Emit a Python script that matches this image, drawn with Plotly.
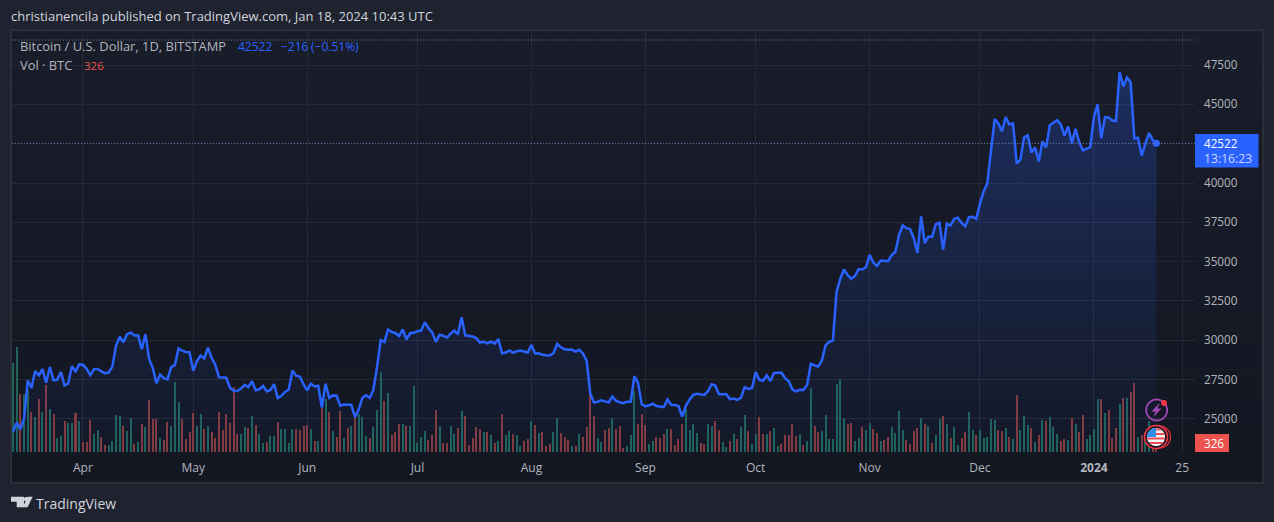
import numpy as np
import pandas as pd
import plotly.graph_objects as go

START_DATE = "2023-03-13"

close_mar = [24190,24770,24360,25050,27450,26970,28050,27770,28170,27300,28300,27470,27490,27990,27130,27260,28350,28030,28470]
close_apr = [28450,28190,27790,28170,28180,28030,27910,27950,28330,29650,30230,29880,30390,30490,30310,30320,29430,30390,28820,28250,27270,27820,27590,27520,28300,28420,29480,29340,29250,29240]
close_may = [28070,28680,29030,28850,29530,28900,28450,27660,27630,27620,26990,26800,26780,26930,27170,27030,27400,26830,26890,27100,26750,26850,27220,26330,26470,26720,26870,28080,27750,27700,27210]
close_jun = [26820,27250,27070,27110,25730,27240,26340,26500,26480,25850,25920,25900,25910,25120,25580,26340,26510,26340,26840,28310,30020,29890,30690,30530,30470,30270,30690,30070,30450,30480]
close_jul = [30580,30620,31150,30770,30510,29900,30350,30290,30170,30420,30620,30380,31470,30320,30290,30240,30140,29860,29910,29800,29910,29790,30080,29180,29220,29350,29210,29310,29350,29280,29230]
close_aug = [29700,29170,29180,29080,29050,29040,29180,29770,29560,29430,29400,29410,29280,29400,29170,28720,26620,26050,26100,26190,26120,26050,26430,26160,26060,26010,26090,26100,27720,27300,25940]
close_sep = [25800,25870,25970,25820,25790,25750,26240,25910,25890,25830,25160,25840,26220,26530,26600,26570,26530,26760,27210,27130,26570,26580,26590,26260,26300,26210,26350,27020,26910,26970]
close_oct = [27980,27490,27430,27780,27410,27930,27960,27950,27590,27390,26870,26750,26860,26850,27160,28510,28410,28330,28720,29680,29910,29990,33090,33900,34500,34150,33910,34090,34530,34500,34650]
close_nov = [35440,34940,34730,35070,35040,35030,35420,35630,36700,37310,37130,37070,36490,35560,37880,36170,36600,36580,37380,37470,35760,37420,37290,37720,37790,37460,37240,37830,37860,37720]
close_dec = [38690,39470,39970,41990,44070,43780,43290,44190,43720,43790,41240,41480,42890,43030,41930,42260,41370,42660,42270,43670,43860,43990,43720,43010,43590,42520,43440,42600,42070,42150,42280]
close_jan = [44180,45000,42850,44170,44160,43970,43940,47050,46130,46700,46400,42830,42880,41730,42510,43180,42738,42522]

vol_mar = [3204,3780,2088,2088,2232,1440,1260,1908,1440,2412,1548,1368,504,576,1116,1044,1044,1404,1116]
vol_apr = [360,360,1152,648,792,540,252,252,396,1332,1296,936,756,1224,288,360,1008,900,1872,1188,1188,504,432,1080,936,2520,1800,1188,468,720]
vol_may = [1404,936,1368,828,936,720,504,1440,792,1368,1044,2340,648,648,900,864,1296,972,648,324,360,576,576,1080,828,828,324,828,828,792,936]
vol_jun = [972,828,396,396,1584,1908,1440,756,540,1476,504,864,936,1260,1368,1260,576,504,900,1512,2880,1836,2124,612,720,1008,1008,936,936,2376]
vol_jul = [324,540,756,432,612,1512,936,324,324,936,648,864,1476,1296,252,504,900,828,720,720,612,324,396,1368,612,756,648,612,216,396,468]
vol_aug = [1116,972,684,720,216,288,720,1224,684,540,432,216,216,648,540,900,2376,1296,504,360,792,864,1224,828,936,144,216,612,2196,1008,1368]
vol_sep = [972,288,396,540,504,648,828,828,252,468,1008,1548,792,1008,684,324,288,1008,936,1116,792,360,180,396,648,468,900,1332,756,288]
vol_oct = [648,1260,648,648,756,864,216,288,612,612,1008,576,648,252,396,2304,936,720,756,1332,468,468,2448,2628,1224,1008,1044,396,504,900,792]
vol_nov = [1044,828,684,396,432,540,900,684,1476,792,432,288,756,864,1224,1008,936,324,612,1188,1296,1008,504,900,252,504,720,1440,792,612]
vol_dec = [792,504,540,1188,1152,792,756,864,540,468,2052,792,1296,972,864,360,612,1152,1116,1260,900,648,396,468,432,1224,1008,720,1332,468,612]
vol_jan = [828,1908,1908,1404,1512,504,864,1728,1944,1944,2160,2484,540,612,720,1116,216,326]

x_tick_vals = ["2023-04-01","2023-05-01","2023-06-01","2023-07-01","2023-08-01","2023-09-01","2023-10-01","2023-11-01","2023-12-01","2024-01-01","2024-01-25"]
x_tick_text = ["Apr","May","Jun","Jul","Aug","Sep","Oct","Nov","Dec","<b>2024</b>","25"]
y_tick_vals = [25000,27500,30000,32500,35000,37500,40000,42500,45000,47500]
y_tick_text = ["25000","27500","30000","32500","35000","37500","40000","","45000","47500"]

close = close_mar+close_apr+close_may+close_jun+close_jul+close_aug+close_sep+close_oct+close_nov+close_dec+close_jan
vol = vol_mar+vol_apr+vol_may+vol_jun+vol_jul+vol_aug+vol_sep+vol_oct+vol_nov+vol_dec+vol_jan
dates = pd.date_range(START_DATE, periods=len(close), freq="D")
assert len(close) == len(vol)

W, H = 1274, 522
L, R, T, B = 12, 1195, 31, 452
FONT = "Open Sans"
GRID = "#252936"
TXT = "#b2b5be"
BLUE = "#2962ff"
RED = "#ef5350"

def px(x, y):
    return (x - L) / (R - L), (B - y) / (B - T)

def rect(x0, y0, x1, y1, fill, layer="below"):
    a, b = px(x0, y0)
    c, d = px(x1, y1)
    return dict(type="rect", xref="paper", yref="paper", x0=a, y0=b, x1=c, y1=d,
                fillcolor=fill, line=dict(width=0), layer=layer)

def poly(points, fill=None, line=None, lw=0):
    s = ""
    for i, (x, y) in enumerate(points):
        a, b = px(x, y)
        s += ("M" if i == 0 else "L") + f"{a:.5f},{b:.5f}"
    s += "Z"
    return dict(type="path", xref="paper", yref="paper", path=s, layer="above",
                fillcolor=fill if fill else "rgba(0,0,0,0)",
                line=dict(width=lw, color=line if line else "rgba(0,0,0,0)"))

def disc(cx, cy, r, fill=None, line=None, lw=0, a0=0, a1=2*np.pi, n=40, centre=False):
    th = np.linspace(a0, a1, n)
    pts = [(cx + r*np.cos(t), cy + r*np.sin(t)) for t in th]
    if centre:
        pts = [(cx, cy)] + pts
    return poly(pts, fill, line, lw)

def strip(cx, cy, r, y0, y1, fill):
    ys = np.linspace(y0, y1, 5)
    left = [(cx - np.sqrt(max(r*r - (v-cy)**2, 0)), v) for v in ys]
    right = [(cx + np.sqrt(max(r*r - (v-cy)**2, 0)), v) for v in ys[::-1]]
    return poly(left + right, fill)

shapes = [rect(10, 29, 1264, 484, "#2a2e39")]
n_bands = 16
c0, c1 = np.array([0x19, 0x1d, 0x2a]), np.array([0x13, 0x17, 0x22])
for i in range(n_bands):
    c = c0 + (c1 - c0) * i / (n_bands - 1)
    y0 = 31 + (482 - 31) * i / n_bands
    y1 = 31 + (482 - 31) * (i + 1) / n_bands
    shapes.append(rect(12, y0, 1262, y1, f"rgb({int(c[0])},{int(c[1])},{int(c[2])})"))

# dotted guides
a, b = px(12, 40)
c, _ = px(1195, 40)
shapes.append(dict(type="line", xref="paper", yref="paper", x0=a, x1=c, y0=b, y1=b, layer="above",
                   line=dict(color="#787b86", width=1, dash="1px,2px")))
shapes.append(dict(type="line", xref="paper", yref="y2", x0=0, x1=1, y0=close[-1], y1=close[-1], layer="above",
                   line=dict(color="#5f77b8", width=1, dash="1px,2px")))

# price / volume labels
shapes.append(rect(1195, 134, 1258.5, 167.5, BLUE, "above"))
shapes.append(rect(1195, 434, 1229, 452, RED, "above"))

# lightning icon
shapes.append(disc(1156.7, 410, 10.5, None, "#a347b5", 1.8))
shapes.append(poly([(1160,402.5),(1151.5,411.5),(1155.5,411.5),(1153.5,417),(1161.5,408.5),(1157.5,408.5)], "#a347b5"))
shapes.append(disc(1164, 403, 3, "#f23645"))

# flag icon
shapes.append(disc(1159.5, 437, 11, None, "#e02b3c", 1.3))
shapes.append(disc(1156, 437, 12, "#131722"))
shapes.append(disc(1156, 437, 11.5, None, "#f23645", 1.6))
shapes.append(disc(1156, 437, 9, "#f5f5f5"))
for y0, y1 in [(428.5, 430.5), (433, 435), (437.5, 439.5), (442, 444)]:
    shapes.append(strip(1156, 437, 9, y0, y1, "#ef4e57"))
shapes.append(disc(1156, 437, 9, "#2f8fe8", a0=np.pi, a1=1.5*np.pi, n=14, centre=True))

# TradingView logo
LOGO = "#d1d4dc"
shapes.append(poly([(11,496.7),(24,496.7),(24,507.3),(16.7,507.3),(16.7,501.7),(11,501.7)], LOGO))
shapes.append(disc(26.2, 499.2, 2.3, LOGO))
shapes.append(poly([(28,496.7),(32.7,496.7),(27.5,507.3),(22.7,507.3)], LOGO))

def note(x, y, text, color=TXT, size=12):
    a, b = px(x, y)
    return dict(xref="paper", yref="paper", x=a, y=b, text=text, showarrow=False,
                xanchor="left", yanchor="middle", xshift=-2,
                font=dict(family=FONT, size=size, color=color))

annotations = [
    note(11, 16, "christianencila published on TradingView.com, Jan 18, 2024 10:43 UTC", "#d1d4dc", 13),
    note(20, 46, "Bitcoin / U.S. Dollar, 1D, BITSTAMP", TXT, 12.9),
    note(238, 46, "42522", BLUE, 12),
    note(281, 46, "−216", BLUE, 12),
    note(311, 46, "(−0.51%)", BLUE, 12),
    note(20, 65, "Vol · BTC", TXT, 12.9),
    note(83.5, 65, "326", RED, 11.5),
    note(36, 503, "TradingView", "#d1d4dc", 14),
    note(1204, 143, "42522", "#ffffff", 11.7),
    note(1204, 158.5, "13:16:23", "#c9d6ff", 12.2),
    note(1204, 443, "326", "#ffffff", 11.7),
]

bar_colors = ["#1f635b" if i == 0 or close[i] >= close[i-1] else "#843a3d" for i in range(len(close))]

fig = go.Figure()
fig.add_trace(go.Bar(x=dates, y=vol, marker=dict(color=bar_colors, line=dict(width=0)),
                     width=47000000, yaxis="y", showlegend=False, hoverinfo="skip"))
fig.add_trace(go.Scatter(x=dates, y=close, mode="lines", yaxis="y2", showlegend=False,
                         line=dict(color=BLUE, width=2.5), fill="tozeroy",
                         fillgradient=dict(type="vertical",
                                           colorscale=[[0, "rgba(41,98,255,0.02)"], [1, "rgba(41,98,255,0.25)"]],
                                           start=22900, stop=47050),
                         hoverinfo="skip"))
fig.add_trace(go.Scatter(x=[dates[-1]], y=[close[-1]], mode="markers", yaxis="y2", showlegend=False,
                         marker=dict(color=BLUE, size=7), hoverinfo="skip"))

fig.update_layout(
    width=W, height=H, autosize=False,
    margin=dict(l=L, r=W-R, t=T, b=H-B, pad=0),
    paper_bgcolor="#1f232f", plot_bgcolor="rgba(0,0,0,0)",
    bargap=0, showlegend=False, shapes=shapes, annotations=annotations,
    font=dict(family=FONT, size=12, color=TXT),
    xaxis=dict(type="date", range=["2023-03-12 17:00", "2024-01-28 12:00"], tickmode="array",
               tickvals=x_tick_vals, ticktext=x_tick_text, showgrid=True, gridcolor=GRID, gridwidth=1,
               zeroline=False, showline=False, ticks="", ticklabelstandoff=7,
               tickfont=dict(family=FONT, size=12, color=TXT)),
    yaxis=dict(range=[0, 15156], showgrid=False, zeroline=False, showticklabels=False, ticks="", showline=False),
    yaxis2=dict(range=[22902, 49661], overlaying="y", side="right", anchor="x", tickmode="array",
                tickvals=y_tick_vals, ticktext=y_tick_text, showgrid=True, gridcolor=GRID, gridwidth=1,
                zeroline=False, showline=False, ticks="", ticklabelstandoff=8,
                tickfont=dict(family=FONT, size=11.7, color=TXT)),
)
fig.write_html("out.html", config={"displayModeBar": False},
               post_script="document.body.style.margin='0';document.body.style.background='#1f232f';")
